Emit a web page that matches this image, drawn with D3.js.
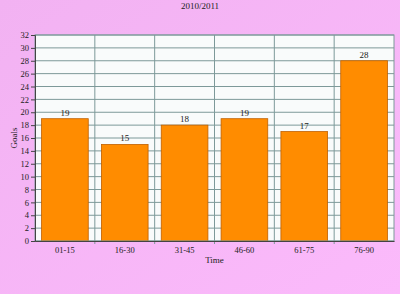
<!DOCTYPE html>
<html>
<head>
<meta charset="utf-8">
<script src="https://cdn.jsdelivr.net/npm/d3@7"></script>
<style>
body { margin: 0; }
svg { display: block; font-family: "Liberation Serif", "DejaVu Serif", serif; }
</style>
</head>
<body>
<svg id="chart" width="400" height="294"></svg>
<script>
var categories = ["01-15", "16-30", "31-45", "46-60", "61-75", "76-90"];
var goals = [19, 15, 18, 19, 17, 28];
var yTicks = d3.range(0, 33, 2);

var width = 400, height = 294;
var margin = {top: 35, right: 6, bottom: 53, left: 35};
var svg = d3.select("#chart");

// pink background
var defs = svg.append("defs");
var grad = defs.append("linearGradient").attr("id", "bg")
    .attr("x1", 0).attr("y1", 0).attr("x2", 1).attr("y2", 1);
grad.append("stop").attr("offset", "0%").attr("stop-color", "#f2b2f2");
grad.append("stop").attr("offset", "100%").attr("stop-color", "#fbbafb");
svg.append("rect").attr("width", width).attr("height", height).attr("fill", "url(#bg)");

var x = d3.scaleBand().domain(categories)
    .range([margin.left, width - margin.right])
    .paddingInner(0.22).paddingOuter(0.11);
var y = d3.scaleLinear().domain([0, 32]).range([height - margin.bottom, margin.top]);

var g = svg.append("g");
var plotL = margin.left, plotR = width - margin.right;
var plotT = margin.top, plotB = height - margin.bottom;

g.append("rect").attr("x", plotL).attr("y", plotT)
    .attr("width", plotR - plotL).attr("height", plotB - plotT)
    .attr("fill", "#f9fbfb");

// grid lines
g.append("g").selectAll("line").data(yTicks).enter().append("line")
    .attr("x1", plotL).attr("x2", plotR)
    .attr("y1", function(d) { return y(d); }).attr("y2", function(d) { return y(d); })
    .attr("stroke", "#7d9999").attr("stroke-width", 1);

var step = x.step();
var bounds = d3.range(1, categories.length).map(function(i) { return plotL + i * (plotR - plotL) / categories.length; });
g.append("g").selectAll("line").data(bounds).enter().append("line")
    .attr("x1", function(d) { return d; }).attr("x2", function(d) { return d; })
    .attr("y1", plotT).attr("y2", plotB + 3)
    .attr("stroke", "#7d9999").attr("stroke-width", 1);

// bars
g.append("g").selectAll("rect").data(goals).enter().append("rect")
    .attr("x", function(d, i) { return x(categories[i]); })
    .attr("y", function(d) { return y(d); })
    .attr("width", x.bandwidth())
    .attr("height", function(d) { return y(0) - y(d); })
    .attr("fill", "#ff8c00").attr("stroke", "#c06000").attr("stroke-width", 0.8);

// value labels
g.append("g").selectAll("text").data(goals).enter().append("text")
    .attr("x", function(d, i) { return x(categories[i]) + x.bandwidth() / 2; })
    .attr("y", function(d) { return y(d) - 3; })
    .attr("text-anchor", "middle").attr("font-size", 9).attr("fill", "#222")
    .text(function(d) { return d; });

// plot border
g.append("rect").attr("x", plotL).attr("y", plotT)
    .attr("width", plotR - plotL).attr("height", plotB - plotT)
    .attr("fill", "none").attr("stroke", "#7d9999");

// axes
var yAxis = d3.axisLeft(y).tickValues(yTicks).tickSize(4).tickPadding(2);
var ya = svg.append("g").attr("transform", "translate(" + plotL + ",0)").call(yAxis);
ya.select(".domain").attr("stroke", "#444");
ya.selectAll(".tick line").attr("stroke", "#444");
ya.selectAll("text").attr("font-size", 8.5).attr("fill", "#222").attr("font-family", "Liberation Serif");

var xAxis = d3.axisBottom(x).tickSize(0).tickPadding(6);
var xa = svg.append("g").attr("transform", "translate(0," + plotB + ")").call(xAxis);
xa.select(".domain").attr("stroke", "#444");
xa.selectAll("text").attr("font-size", 8.5).attr("fill", "#222").attr("font-family", "Liberation Serif");

// titles
svg.append("text").attr("x", 200).attr("y", 9).attr("text-anchor", "middle")
    .attr("font-size", 9).attr("fill", "#222").text("2010/2011");
svg.append("text").attr("x", (plotL + plotR) / 2).attr("y", 263).attr("text-anchor", "middle")
    .attr("font-size", 9).attr("fill", "#222").text("Time");
svg.append("text").attr("transform", "translate(17," + (plotT + plotB) / 2 + ") rotate(-90)")
    .attr("text-anchor", "middle").attr("font-size", 9).attr("fill", "#222").text("Goals");
</script>
</body>
</html>
